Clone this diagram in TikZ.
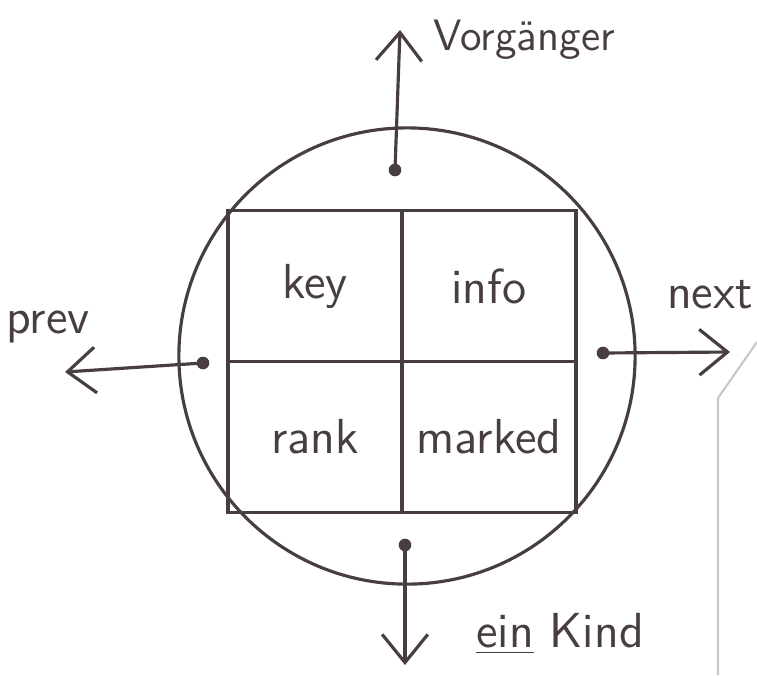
\documentclass[tikz,border=0pt]{standalone}
\usepackage{tikz}
\usetikzlibrary{arrows.meta, positioning}
\definecolor{ink}  {RGB}{72,  62,  64}
\definecolor{edge} {RGB}{200, 200, 200}

\begin{document}
\begin{tikzpicture}[
  x=0.01cm, y=-0.01cm,
  >={Straight Barb[length=8pt, width=13pt]},
  line width=0.9pt,
  ink,
  feld/.style={draw=ink, minimum width=1.74cm, minimum height=1.51cm,
    inner sep=0pt, font=\fontsize{14}{16}\selectfont\sffamily},
  marke/.style={font=\fontsize{14}{16}\selectfont\sffamily, text=ink},
  punkt/.style={circle, fill=ink, inner sep=0pt, minimum size=3.6pt},
]

%% ─── Rahmen: 757 x 675 Pixel ────────────────────────────────
\useasboundingbox (0,0) rectangle (757,675);

% ── Kreis (Knoten) ──────────────────────────────────────────
\node[circle, draw=ink, minimum size=4.56cm, inner sep=0pt] (kreis) at (407,356) {};

% ── Felder key / info / rank / marked ───────────────────────
\node[feld] (key)    at (315,286) {key};
\node[feld] (info)   at (489,286) {info};
\node[feld] (rank)   at (315,437) {rank};
\node[feld] (marked) at (489,437) {marked};

% ── Zeiger-Punkte ───────────────────────────────────────────
\node[punkt] (oben)   at (395,170) {};
\node[punkt] (links)  at (203,363) {};
\node[punkt] (rechts) at (603,353) {};
\node[punkt] (unten)  at (405,545) {};

\coordinate (vorg) at (400,30);
\coordinate (prevend) at (65,372);
\coordinate (nextend) at (730,352);
\coordinate (kindend) at (405,665);

% ── Pfeile ──────────────────────────────────────────────────
\draw[->] (oben.center)   -- (vorg);
\draw[->] (links.center)  -- (prevend);
\draw[->] (rechts.center) -- (nextend);
\draw[->] (unten.center)  -- (kindend);

% ── Beschriftungen ──────────────────────────────────────────
\node[marke, font=\fontsize{12.5}{15}\selectfont\sffamily] (lvorg) at (524,40) {Vorgänger};
\node[marke] (lprev) at (48,327)  {prev};
\node[marke] (lnext) at (710,295) {next};
\node[marke] (lkind) at (560,634) {\underline{ein} Kind};

% ── Blattkante (Scan) ───────────────────────────────────────
\draw[edge, line width=0.6pt] (757,342) -- (718,398) -- (718,675);

\end{tikzpicture}
\end{document}
